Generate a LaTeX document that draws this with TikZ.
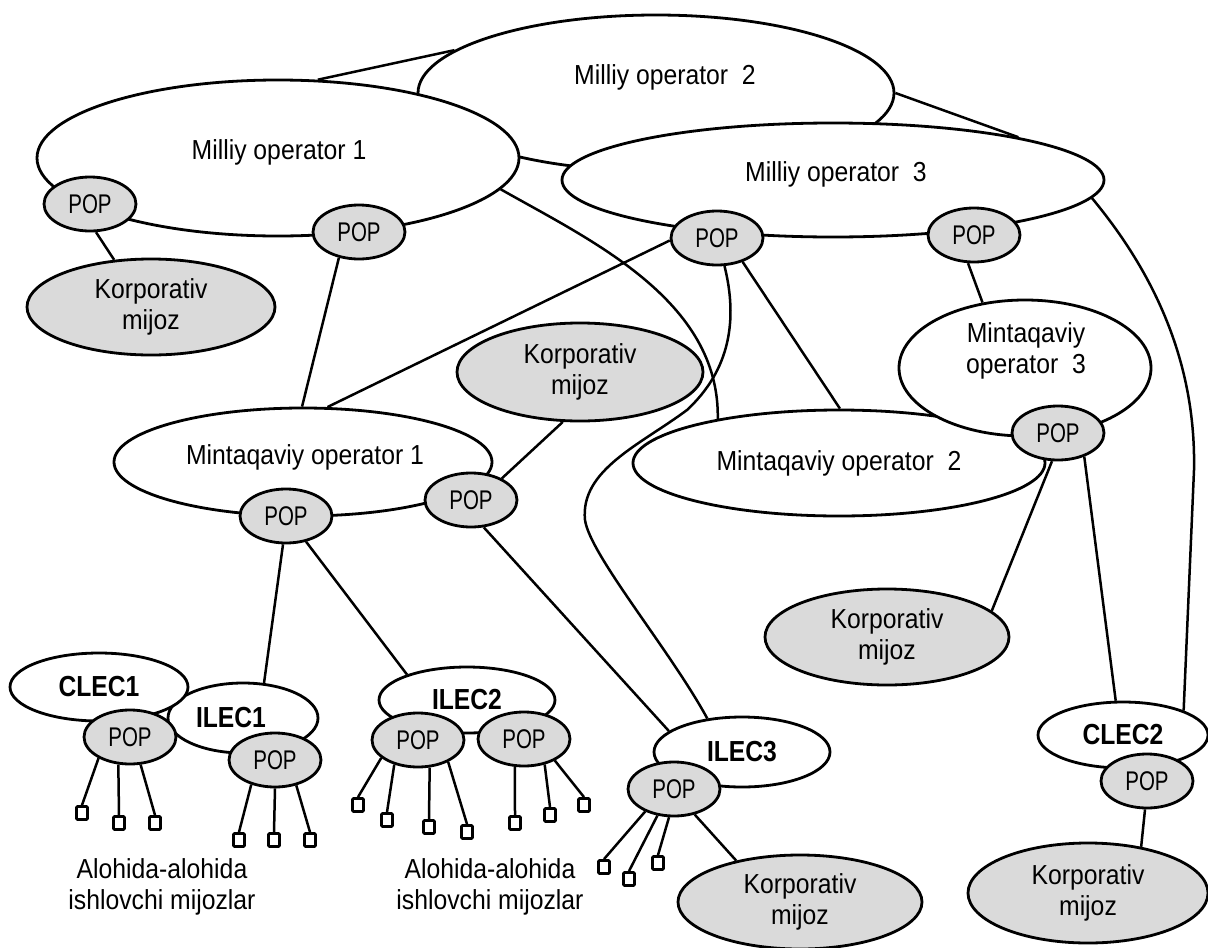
\documentclass[tikz,border=0pt]{standalone}
\usepackage{fontspec}
\setmainfont{Liberation Sans}
\newfontfamily\labfont{Liberation Sans}[FakeStretch=0.9]
\newfontfamily\popfont{Liberation Sans}[FakeStretch=0.76]
\newfontfamily\lecfont{Liberation Sans}[FakeStretch=0.85]
\usetikzlibrary{shapes.geometric}
\pgfdeclarelayer{paper}
\pgfdeclarelayer{wires}
\pgfsetlayers{paper,wires,main}
\definecolor{popgray}{RGB}{218,218,218}

\tikzset{
  rad/.style 2 args={minimum width=#1pt, minimum height=#2pt},
  oval/.style={ellipse, draw, line width=2.8pt, fill=white, inner sep=0pt,
    align=center, font=\labfont\fontsize{27.5}{31}\selectfont},
  client/.style={oval, fill=popgray},
  lecfont/.style={font=\lecfont\bfseries\fontsize{29}{31}\selectfont},
  lec/.style={oval, lecfont},
  popnode/.style={ellipse, draw, line width=2.8pt, fill=popgray, inner sep=0pt,
    minimum width=92pt, minimum height=54pt,
    font=\popfont\fontsize{27}{29}\selectfont},
  term/.style={rectangle, draw, line width=2.8pt, fill=white, inner sep=0pt,
    minimum width=11pt, minimum height=13pt, rounded corners=1pt},
  caption/.style={inner sep=0pt, align=center,
    font=\labfont\fontsize{27.5}{31}\selectfont},
  link/.style={line width=2.5pt},
}

\begin{document}
\begin{tikzpicture}[x=1pt, y=-1pt]
\useasboundingbox (0,0) rectangle (1208,948);
\begin{pgfonlayer}{paper}
  \fill[white] (0,0) rectangle (1208,948);
\end{pgfonlayer}

% national operators
\node[oval, rad={476}{156}] (mo2) at (656,93) {};
\node[oval, rad={482}{156}] (mo1) at (278,158) {};
\node[oval, rad={542}{114}] (mo3) at (833,180) {};
\node[caption] (mo2t) at (665,77) {Milliy operator\ \ 2};
\node[caption] (mo1t) at (279,152) {Milliy operator 1};
\node[caption] (mo3t) at (836,174) {Milliy operator\ \ 3};

% regional operators
\node[oval, rad={412}{106}] (mint2) at (839,463) {Mintaqaviy operator\ \ 2};
\node[oval, rad={252}{136}] (mint3) at (1025,368) {};
\node[caption] (mint3t) at (1026,351) {Mintaqaviy\\operator\ \ 3};
\node[oval, rad={378}{108}] (mint1) at (303,462) {};
\node[caption] (mint1t) at (305,457) {Mintaqaviy operator 1};

% corporate clients
\node[client, rad={248}{96}] (korp1) at (151,307) {Korporativ\\mijoz};
\node[client, rad={246}{98}] (kmid) at (580,372) {Korporativ\\mijoz};
\node[client, rad={244}{96}] (kright) at (887,637) {Korporativ\\mijoz};
\node[client, rad={244}{94}] (kilec3) at (800,902) {Korporativ\\mijoz};
\node[client, rad={240}{100}] (kclec2) at (1088,893) {Korporativ\\mijoz};

% local exchange carriers
\node[lec, rad={150}{70}] (ilec1) at (243,718) {};
\node[inner sep=0pt, lecfont] (ilec1t) at (231,718) {ILEC1};
\node[lec, rad={178}{68}] (clec1) at (99,687) {CLEC1};
\node[lec, rad={176}{66}] (ilec2) at (467,700) {ILEC2};
\node[lec, rad={176}{70}] (ilec3) at (742,752) {ILEC3};
\node[lec, rad={170}{66}] (clec2) at (1123,735) {CLEC2};

% points of presence
\node[popnode] (p1a)  at (90,204)   {POP};
\node[popnode] (p1b)  at (359,232)  {POP};
\node[popnode] (p3a)  at (717,238)  {POP};
\node[popnode] (p3b)  at (974,235)  {POP};
\node[popnode] (pm1a) at (286,516)  {POP};
\node[popnode] (pm1b) at (471,500)  {POP};
\node[popnode] (pm3)  at (1058,433) {POP};
\node[popnode] (pc1)  at (130,737)  {POP};
\node[popnode] (pi1)  at (275,760)  {POP};
\node[popnode] (pi2a) at (418,740)  {POP};
\node[popnode] (pi2b) at (524,739)  {POP};
\node[popnode] (pi3)  at (674,789)  {POP};
\node[popnode] (pc2)  at (1147,781) {POP};

% individual subscribers
\node[term] (c1a) at (82,813) {};
\node[term] (c1b) at (119,823) {};
\node[term] (c1c) at (155,823) {};
\node[term] (i1a) at (239,840) {};
\node[term] (i1b) at (274,840) {};
\node[term] (i1c) at (310,840) {};
\node[term] (i2a) at (358,805) {};
\node[term] (i2b) at (387,820) {};
\node[term] (i2c) at (429,827) {};
\node[term] (i2d) at (467,832) {};
\node[term] (i2e) at (515,823) {};
\node[term] (i2f) at (550,815) {};
\node[term] (i2g) at (584,805) {};
\node[term] (i3a) at (604,867) {};
\node[term] (i3b) at (629,879) {};
\node[term] (i3c) at (658,863) {};

\node[caption] (al1) at (162,887) {Alohida-alohida\\ishlovchi mijozlar};
\node[caption] (al2) at (490,887) {Alohida-alohida\\ishlovchi mijozlar};

\begin{pgfonlayer}{wires}
  \draw[link] (mo1.63) -- (mo2.168);
  \draw[link] (mo2.0) -- (mo3.13);
  \draw[link] (mo1.-8) .. controls (590,240) and (720,300) .. (mint2.160);
  \draw[link] (p1a.-78) -- (korp1.128);
  \draw[link] (p1b.-128) -- (mint1.91);
  \draw[link] (p3a.183) -- (mint1.66);
  \draw[link] (p3a.-75) .. controls (738,320) and (730,370) .. (687,410)
      .. controls (640,445) and (580,470) .. (585,520)
      .. controls (590,555) and (670,650) .. (ilec3.136);
  \draw[link] (p3a.-43) -- (mint2.89);
  \draw[link] (p3b.-102) -- (mint3.123);
  \draw[link] (mo3.-4) .. controls (1160,280) and (1196,370) .. (1194,470)
      -- (clec2.22);
  \draw[link] (pm1a.-96) -- (ilec1.59);
  \draw[link] (pm1a.-52) -- (ilec2.157);
  \draw[link] (pm1b.-65) -- (ilec3.164);
  \draw[link] (kmid.-109) -- (pm1b.35);
  \draw[link] (pm3.-102) -- (kright.14);
  \draw[link] (pm3.-42) -- (clec2.102);
  \draw[link] (pc2.-94) -- (kclec2.41);
  \draw[link] (pi3.-51) -- (kilec3.147);
  % subscriber drops
  \draw[link] (pc1.-146) -- (c1a.north);
  \draw[link] (pc1.-113) -- (c1b.north);
  \draw[link] (pc1.-69) -- (c1c.north);
  \draw[link] (pi1.-134) -- (i1a.north);
  \draw[link] (pi1.-90) -- (i1b.north);
  \draw[link] (pi1.-50) -- (i1c.north);
  \draw[link] (pi2a.-154) -- (i2a.north);
  \draw[link] (pi2a.-134) -- (i2b.north);
  \draw[link] (pi2a.-67) -- (i2c.north);
  \draw[link] (pi2a.-36) -- (i2d.north);
  \draw[link] (pi2b.-108) -- (i2e.north);
  \draw[link] (pi2b.-51) -- (i2f.north);
  \draw[link] (pi2b.-35) -- (i2g.north);
  \draw[link] (pi3.-142) -- (i3a.north);
  \draw[link] (pi3.-122) -- (i3b.north);
  \draw[link] (pi3.-100) -- (i3c.north);
\end{pgfonlayer}
\end{tikzpicture}
\end{document}
